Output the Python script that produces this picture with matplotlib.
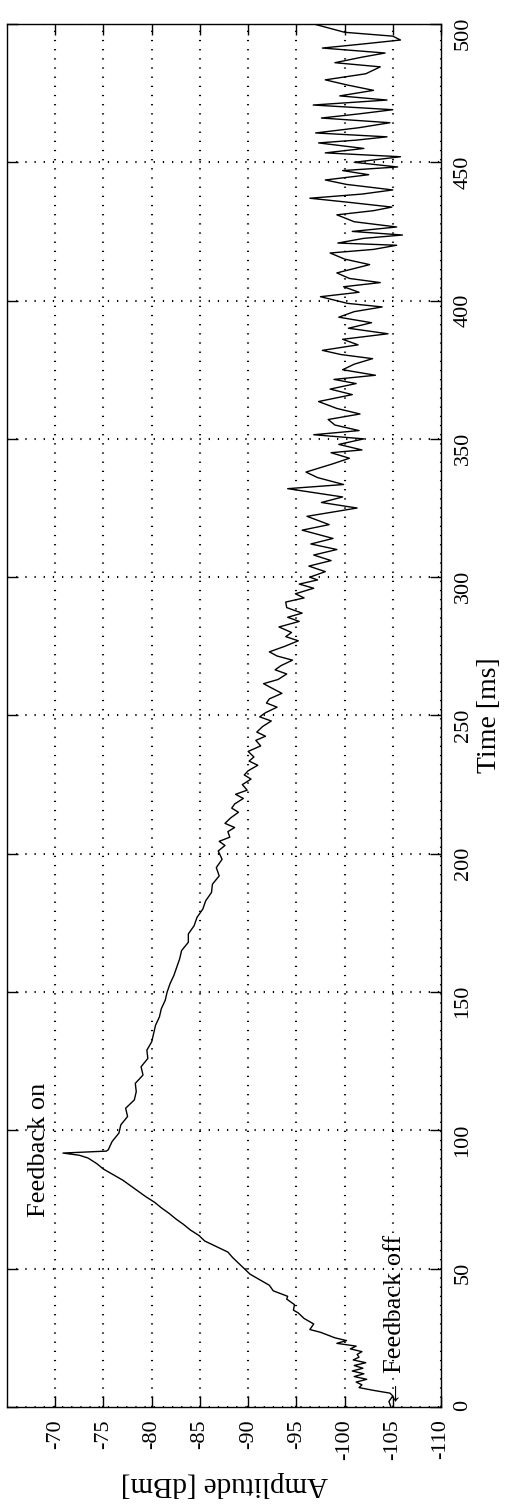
import matplotlib
matplotlib.use('Agg')
import matplotlib.pyplot as plt

# rotated chart: time runs up the page, amplitude runs right to left
time_ms = [0, 2, 4, 5, 6, 7, 8, 9, 10, 11, 12, 13, 14, 15, 16, 17, 18, 19, 20,
           21, 22, 23, 24, 25, 27, 28, 30, 32, 34, 35, 37, 39, 40, 42, 44, 46,
           48, 50, 52, 54, 56, 58, 60, 62, 64, 66, 68, 70, 72, 74, 76, 78, 80,
           82, 84, 86, 88, 90, 91, 91.8, 92.5, 93, 96, 99, 102, 105, 108, 111,
           114, 117, 120, 123, 126, 129, 132, 135, 138, 141, 144, 147, 150,
           153, 156, 159, 162, 165, 168, 171, 174, 177, 180, 183, 186, 189,
           192, 195, 198, 201,
           203, 204.5, 206, 208, 209.5, 211, 213, 215, 216.5, 218, 220, 221.5,
           223, 225, 227, 228.5, 230, 232, 233.5, 235, 237, 239, 241, 242.5,
           244, 246, 248, 249.5, 251, 253, 254.5, 256, 258, 260, 261.5, 263,
           265, 266.5, 268, 270, 271.5, 273, 275, 277, 278.5, 280, 282, 284,
           285.5, 287, 289, 291, 292.5, 294, 296, 297.5, 299, 300,
           302, 304, 306, 308, 310, 312, 314, 317, 319, 322, 325, 327, 329,
           332, 333.5, 336, 338, 341, 343, 345, 346, 348, 350, 351.5, 353,
           355, 357, 359, 361, 363.5, 366, 368, 370, 371.5, 373, 375, 377,
           379, 380.5, 382, 384, 386, 388, 390, 392, 394, 396, 397.7, 399,
           401.4, 403, 405, 406.5, 408, 410, 413, 415, 417.2, 418.5, 420,
           420.8, 422.5, 423.7, 425, 426.6, 428.5, 431, 432.5, 433.8, 435.5,
           437, 438.5, 440, 442, 443.6, 445.5, 447, 448.3, 450, 452, 453.4,
           455, 457, 458, 459.2, 460.6, 462.5, 464.3, 466, 467.5, 469, 470.7,
           472.5, 474, 476, 478, 479.8, 482, 484.5, 486, 488, 489.5, 491.3,
           492.8, 494.2, 495.6, 497, 500]

amp_dbm = [-104.8, -104.6, -105.0, -104.7, -103.0, -101.5, -101.8, -101.2,
           -102.3, -101.0, -102.0, -100.8, -101.9, -101.0, -102.2, -100.9,
           -101.5, -101.3, -101.8, -100.6, -101.2, -99.2, -100.2, -99.0,
           -97.5, -96.4, -96.8, -95.8, -95.2, -94.7, -94.8, -94.0, -94.1,
           -92.6, -92.2, -91.2, -90.2, -89.6, -89.0, -88.4, -87.9, -86.7,
           -85.5, -84.9, -84.0, -83.3, -82.5, -81.8, -81.0, -80.3, -79.4,
           -78.6, -77.8, -77.0, -76.0, -75.0, -74.3, -73.4, -72.5, -70.8,
           -75.3, -75.5, -75.9, -76.6, -76.8, -77.5, -77.3, -78.2, -78.4,
           -78.3, -79.1, -78.9, -79.6, -79.5, -80.0, -80.2, -80.4, -80.8,
           -81.0, -81.4, -81.6, -81.9, -82.3, -82.6, -82.9, -83.1, -83.8,
           -83.8, -84.4, -84.7, -85.3, -85.6, -86.2, -86.3, -87.0, -86.7,
           -87.3, -86.9,
           -87.6, -87.0, -88.1, -87.9, -88.6, -87.6, -88.2, -89.0, -88.3,
           -88.6, -89.5, -88.7, -89.9, -89.4, -90.3, -89.6, -90.0, -91.0,
           -90.1, -90.6, -90.0, -91.3, -90.8, -91.8, -90.9, -91.5, -92.4,
           -91.2, -91.8, -93.0, -91.9, -92.2, -93.5, -92.4, -91.6, -93.1,
           -94.0, -92.8, -93.4, -94.6, -93.0, -92.2, -93.8, -95.2, -93.9,
           -94.5, -93.2, -95.3, -94.1, -95.6, -94.0, -93.9, -95.8, -94.9,
           -96.8, -95.3, -97.2, -96.4,
           -98.0, -96.3, -98.6, -96.8, -99.2, -96.5, -98.8, -95.6, -98.4,
           -96.1, -101.3, -97.6, -99.8, -94.1, -99.9, -97.2, -96.0, -98.8,
           -100.5, -98.6, -101.8, -99.4, -102.0, -96.8, -101.5, -99.0, -98.3,
           -101.6, -99.2, -97.3, -100.8, -98.5, -101.2, -98.9, -103.2, -99.8,
           -101.0, -102.9, -99.6, -97.7, -101.4, -99.8, -104.5, -100.4,
           -102.8, -99.4, -101.0, -103.9, -100.3,
           -97.5, -101.5, -99.9, -103.7, -100.5, -99.2, -102.6, -100.0, -98.5,
           -103.0, -105.4, -99.3, -102.0, -106.0, -100.8, -105.4, -101.0,
           -99.2, -103.0, -104.9, -100.5, -96.4, -101.8, -105.0, -100.2,
           -98.0, -102.5, -99.8, -105.5, -101.0, -105.8, -98.0, -102.0, -97.3,
           -101.2, -104.4, -97.0, -101.5, -104.7, -97.6, -101.5, -105.0,
           -96.75, -104.4, -99.5, -103.0, -100.2, -98.0, -102.2, -103.7,
           -99.0, -101.8, -104.2, -97.7, -102.0, -105.8, -105.0, -100.0,
           -96.8]

amp_ticks = [-110, -105, -100, -95, -90, -85, -80, -75, -70]
time_ticks = [0, 50, 100, 150, 200, 250, 300, 350, 400, 450, 500]

serif = ['Liberation Serif', 'DejaVu Serif']
plt.rcParams['font.family'] = serif

fig = plt.figure(figsize=(5.05, 15.08), dpi=100)
ax = fig.add_axes([0.0139, 0.0670, 0.8594, 0.9171])

ax.plot(amp_dbm, time_ms, color='k', linewidth=1.0)

ax.set_xlim(-65, -110)
ax.set_ylim(0, 500)
ax.set_xticks(amp_ticks)
ax.set_xticklabels([str(v) for v in amp_ticks], rotation=90)
ax.set_yticks(time_ticks)
ax.set_yticklabels([str(v) for v in time_ticks], rotation=90)

ax.tick_params(axis='both', direction='in', length=8, width=1.0,
               top=True, bottom=True, left=True, right=True,
               labelleft=False, labelright=True, labelsize=16, pad=9)
ax.yaxis.set_label_position('right')

ax.grid(True, color='k', linestyle=(0, (0.6, 3.8)), linewidth=1.5)
for s in ax.spines.values():
    s.set_linewidth(1.0)

ax.set_xlabel('Amplitude [dBm]', rotation=180, fontsize=21, labelpad=8)
ax.set_ylabel('Time [ms]', rotation=90, fontsize=20, labelpad=3)

ax.text(-68.3, 93, 'Feedback on', rotation=90, ha='center', va='center',
        fontsize=19)
ax.text(-105.2, 0.5, '\u2190 Feedback off', rotation=90, ha='center',
        va='bottom', fontsize=19, family=serif)

fig.savefig('out.png', dpi=100)
